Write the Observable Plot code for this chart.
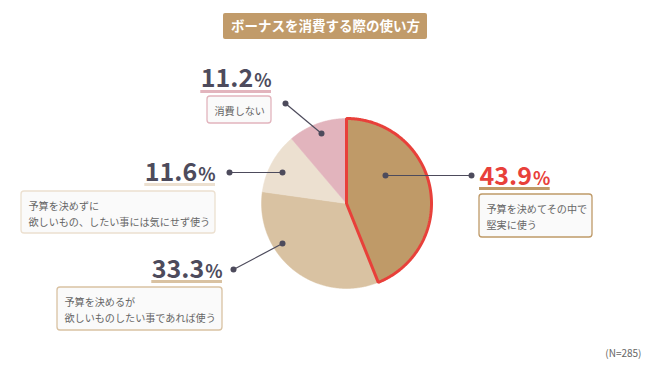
<!DOCTYPE html>
<html><head><meta charset="utf-8">
<script src="https://cdn.jsdelivr.net/npm/d3@7"></script>
<script src="https://cdn.jsdelivr.net/npm/@observablehq/plot@0.6"></script>
<style>body{margin:0;background:#fff}#c{width:650px;height:366px}</style>
</head><body><div id="c"></div>
<script>
// ---- data ----
const title = "ボーナスを消費する際の使い方";
const note = "(N=285)";
const categories = ["予算を決めてその中で\n堅実に使う", "予算を決めるが\n欲しいものしたい事であれば使う", "予算を決めずに\n欲しいもの、したい事には気にせず使う", "消費しない"];
const values = [43.9, 33.3, 11.6, 11.2];
const colors = ["#bf9a68", "#d9c2a2", "#ece0d0", "#e2b4bd"];
const numColors = ["#e8403a", "#4d4b5c", "#4d4b5c", "#4d4b5c"];

// ---- layout ----
const W = 650, H = 366;
const cx = 346, cy = 203, R = 85;
const layout = [
  {align: "start", x: 479, base: 184, ul: 188, box: [479, 592, 194, 237], outer: [471, 175], inner: [385, 175]},
  {align: "end", x: 222, base: 277, ul: 281, box: [57, 222, 287, 330], outer: [233, 269], inner: [282, 243]},
  {align: "end", x: 215, base: 180, ul: 184, box: [21, 215, 191, 233], outer: [229, 172], inner: [282, 172]},
  {align: "end", x: 271, base: 86, ul: 91, box: [207, 271, 96, 123], outer: [285, 103], inner: [321, 133]}
];
const FONT = "'Noto Sans CJK JP', 'Noto Sans', sans-serif";
const numSize = 25, pctSize = 18;

const ctx = document.createElement("canvas").getContext("2d");
function tw(t, size, weight) { ctx.font = `${weight} ${size}px ${FONT}`; return ctx.measureText(t).width; }

// pie polygons
const arcs = d3.pie().sort(null).value(d => d)(values);
const slices = [];
arcs.forEach((a, i) => {
  const pts = [[cx, cy]];
  const n = Math.max(4, Math.ceil((a.endAngle - a.startAngle) / 0.01));
  for (let k = 0; k <= n; k++) {
    const t = a.startAngle + (a.endAngle - a.startAngle) * k / n;
    pts.push([cx + R * Math.sin(t), cy - R * Math.cos(t)]);
  }
  pts.push([cx, cy]);
  pts.forEach(p => slices.push({i, x: p[0], y: p[1]}));
});

const labels = values.map((v, i) => {
  const L = layout[i];
  const num = v.toFixed(1);
  const nw = tw(num, numSize, "bold"), pw = tw("%", pctSize, "600") + 1;
  let x0, x1;
  if (L.align === "start") { x0 = L.x; x1 = L.x + nw + pw; }
  else { x1 = L.x; x0 = L.x - nw - pw; }
  return {i, num, x0, x1, numEnd: x0 + nw, base: L.base, ul: L.ul,
    bx1: L.box[0], bx2: L.box[1], by1: L.box[2], by2: L.box[3],
    ox: L.outer[0], oy: L.outer[1], ix: L.inner[0], iy: L.inner[1],
    cat: categories[i], color: colors[i], numColor: numColors[i]};
});

const chart = Plot.plot({
  width: W, height: H, margin: 0,
  x: {domain: [0, W], range: [0, W], axis: null},
  y: {domain: [0, H], range: [0, H], axis: null},
  style: {fontFamily: FONT},
  marks: [
    // title
    Plot.rect([title], {x1: 223, x2: 427, y1: 13, y2: 39, fill: "#c19b6a", rx: 2}),
    Plot.text([title], {x: 325, y: 26, text: d => d, fill: "#fff", fontSize: 13.5, fontWeight: "bold"}),
    // pie
    Plot.line(slices, {x: "x", y: "y", z: "i", fill: d => colors[d.i], stroke: d => colors[d.i], strokeWidth: 0.5, curve: "linear"}),
    Plot.line(slices.filter(d => d.i === 0), {x: "x", y: "y", stroke: "#e8403a", strokeWidth: 3, strokeLinejoin: "miter", curve: "linear"}),
    // leaders
    Plot.link(labels, {x1: "ox", y1: "oy", x2: "ix", y2: "iy", stroke: "#4d4b5c", strokeWidth: 1.2}),
    Plot.dot(labels, {x: "ox", y: "oy", r: 3, fill: "#4d4b5c"}),
    Plot.dot(labels, {x: "ix", y: "iy", r: 3, fill: "#4d4b5c"}),
    // underlines
    Plot.ruleY(labels, {y: "ul", x1: "x0", x2: "x1", stroke: "color", strokeWidth: 3}),
    // numbers
    Plot.text(labels, {x: "x0", y: d => d.base - 0.32 * numSize, text: "num", textAnchor: "start", fill: "numColor", fontSize: numSize, fontWeight: "bold"}),
    Plot.text(labels, {x: d => d.numEnd + 1, y: d => d.base - 0.32 * pctSize, text: () => "%", textAnchor: "start", fill: "numColor", fontSize: pctSize, fontWeight: "600"}),
    // boxes
    Plot.rect(labels, {x1: "bx1", x2: "bx2", y1: "by1", y2: "by2", fill: "#fafafa", stroke: "color", strokeWidth: 1.3, rx: 3}),
    Plot.text(labels, {x: d => d.bx1 + 7, y: d => (d.by1 + d.by2) / 2, text: "cat", textAnchor: "start", lineAnchor: "middle", fill: "#666", fontSize: 10.1, lineHeight: 1.6}),
    // note
    Plot.text([note], {x: 641, y: 353, text: d => d, textAnchor: "end", fill: "#666", fontSize: 10})
  ]
});
document.getElementById("c").appendChild(chart);
</script>
</body></html>
